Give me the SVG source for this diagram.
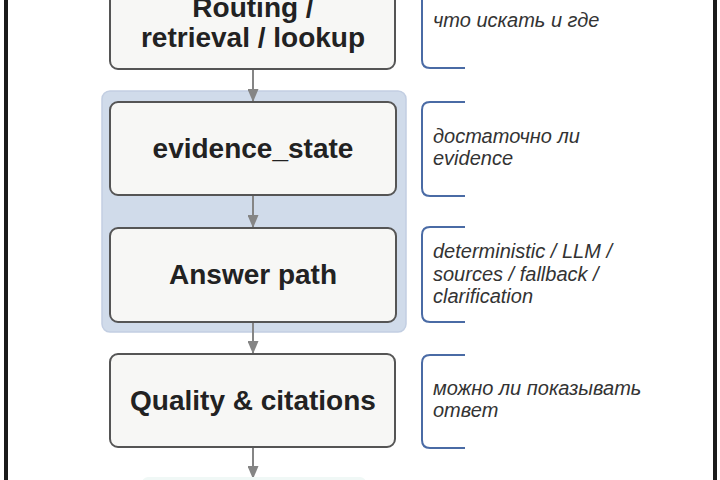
<svg xmlns="http://www.w3.org/2000/svg" width="720" height="480" viewBox="0 0 720 480">
<defs>
<marker id="arr" markerWidth="13" markerHeight="11" refX="12" refY="5.5" orient="auto" markerUnits="userSpaceOnUse">
<path d="M0,0 L13,5.5 L0,11 Z" fill="#858585"/>
</marker>
<style>
.box{fill:#f7f7f5;stroke:#555;stroke-width:2}
.t{font-family:"Liberation Sans",Arial,sans-serif;font-weight:bold;font-size:28px;fill:#222;text-anchor:middle}
.a{font-family:"Liberation Sans",Arial,sans-serif;font-style:italic;font-size:20px;fill:#333}
.br{fill:none;stroke:#4a6ba5;stroke-width:2}
.c{stroke:#858585;stroke-width:2;fill:none;marker-end:url(#arr)}
</style>
</defs>
<rect x="0" y="0" width="720" height="480" fill="#fff"/>
<rect x="6" y="-10" width="709" height="500" fill="none" stroke="#1a1a1a" stroke-width="4"/>
<g id="group-evidence">
<rect x="102" y="91" width="304" height="241" rx="8" fill="#d0dbea" stroke="#c2cee2" stroke-width="1.5"/>
</g>
<g id="connectors">
<line class="c" x1="253" y1="69" x2="253" y2="101"/>
<line class="c" x1="253" y1="196" x2="253" y2="227"/>
<line class="c" x1="253" y1="322" x2="253" y2="353"/>
<line class="c" x1="253" y1="448" x2="253" y2="478"/>
</g>
<g id="node-routing">
<rect class="box" x="110" y="-24" width="285" height="93" rx="8"/>
<text class="t" x="253" y="17">Routing /</text>
<text class="t" x="253" y="47">retrieval / lookup</text>
</g>
<g id="node-evidence">
<rect class="box" x="110" y="102" width="286" height="93" rx="8"/>
<text class="t" x="253" y="158">evidence_state</text>
</g>
<g id="node-answer">
<rect class="box" x="110" y="228" width="286" height="94" rx="8"/>
<text class="t" x="253" y="284">Answer path</text>
</g>
<g id="node-quality">
<rect class="box" x="110" y="354" width="285" height="93" rx="8"/>
<text class="t" x="253" y="410">Quality &amp; citations</text>
</g>
<g id="node-next">
<rect x="142" y="477" width="224" height="20" rx="6" fill="#f0f8f6"/>
</g>
<g id="note-routing">
<path class="br" d="M465,-24 H430 Q422,-24 422,-16 V60 Q422,68 430,68 H465"/>
<text class="a" x="433" y="27">что искать и где</text>
</g>
<g id="note-evidence">
<path class="br" d="M465,102 H430 Q422,102 422,110 V188 Q422,196 430,196 H465"/>
<text class="a" x="433" y="143">достаточно ли</text>
<text class="a" x="433" y="165">evidence</text>
</g>
<g id="note-answer">
<path class="br" d="M465,227 H430 Q422,227 422,235 V314 Q422,322 430,322 H465"/>
<text class="a" x="433" y="258">deterministic / LLM /</text>
<text class="a" x="433" y="280.5">sources / fallback /</text>
<text class="a" x="433" y="303">clarification</text>
</g>
<g id="note-quality">
<path class="br" d="M465,355 H430 Q422,355 422,363 V440 Q422,448 430,448 H465"/>
<text class="a" x="433" y="395">можно ли показывать</text>
<text class="a" x="433" y="417">ответ</text>
</g>
</svg>
